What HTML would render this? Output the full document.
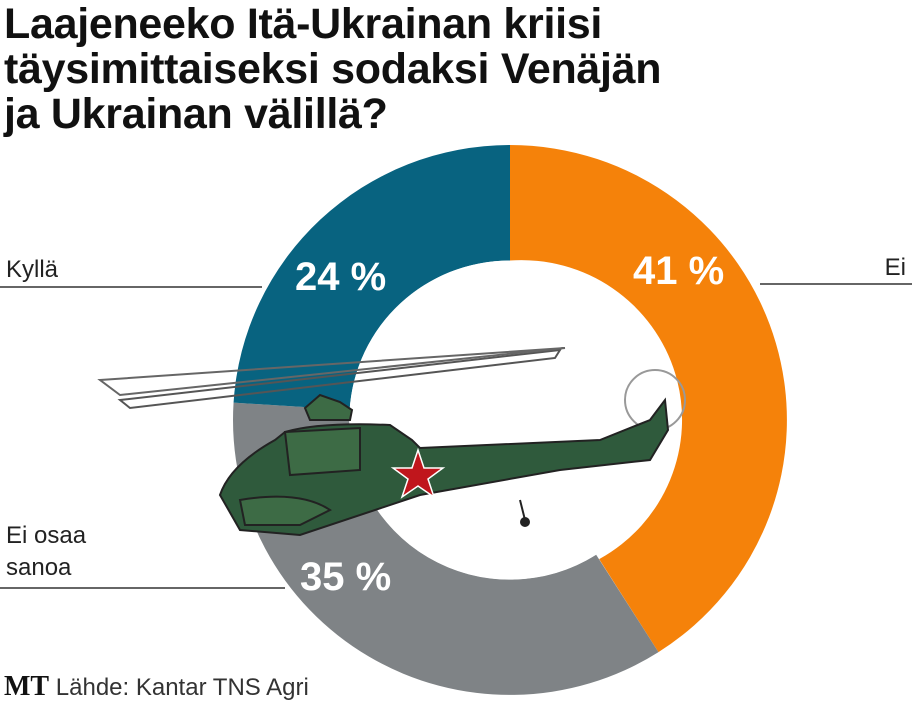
<!DOCTYPE html>
<html><head><meta charset="utf-8"><style>
body{margin:0;width:912px;height:702px;background:#fff;overflow:hidden;position:relative;font-family:"Liberation Sans",sans-serif}
.t{position:absolute;left:4px;top:2px;font-weight:bold;font-size:43px;line-height:45px;color:#111;letter-spacing:-0.3px}
.l{position:absolute;font-size:24px;color:#222}
</style></head><body>
<svg width="912" height="702" style="position:absolute;left:0;top:0">
<g transform="translate(510,420) scale(277,275)">
<path d="M0,-1 A1,1 0 0 1 0.536,0.844 L0.322,0.506 A0.58,0.58 0 0 0 0,-0.58Z" fill="#f5820a" transform="scale(1)"/>
<path d="M0.536,0.844 A1,1 0 0 1 -0.998,-0.063 L-0.579,-0.037 A0.58,0.58 0 0 0 0.311,0.49Z" fill="#7f8386"/>
<path d="M-0.998,-0.063 A1,1 0 0 1 0,-1 L0,-0.58 A0.58,0.58 0 0 0 -0.579,-0.037Z" fill="#086380"/>
<circle r="0.58" fill="#fff"/>
</g>
<line x1="0" y1="287" x2="262" y2="287" stroke="#333" stroke-width="1.5"/>
<line x1="760" y1="284" x2="912" y2="284" stroke="#333" stroke-width="1.5"/>
<line x1="0" y1="588" x2="285" y2="588" stroke="#333" stroke-width="1.5"/>
<g font-family="Liberation Sans" font-weight="bold" font-size="40" fill="#fff">
<text x="295" y="290">24 %</text><text x="633" y="284">41 %</text><text x="300" y="590">35 %</text></g>
<!-- helicopter -->
<g stroke="#222" stroke-width="2">
<path d="M120,400 L560,350 L555,358 L130,408Z" fill="none" stroke="#555"/>
<path d="M100,380 L565,348 L120,395Z" fill="none" stroke="#666"/>
<circle cx="655" cy="400" r="30" fill="none" stroke="#999"/>
<path d="M305,408 L320,395 L340,402 L352,410 L350,420 L310,420Z" fill="#3d6b45"/>
<path d="M220,495 Q230,465 275,440 L285,432 Q320,422 390,425 L412,440 L420,448 L600,440 L650,420 L665,400 L668,430 L650,460 L560,470 L420,495 L300,535 L240,530Z" fill="#2f5a3c"/>
<path d="M285,432 L360,428 L360,470 L290,475Z" fill="#3d6b45"/>
<path d="M240,500 Q300,490 330,510 L300,525 L245,525Z" fill="#3d6b45"/>
<line x1="520" y1="500" x2="525" y2="520"/><circle cx="525" cy="522" r="4" fill="#222"/>
</g>
<polygon points="418,450 424,468 443,468 428,479 434,497 418,486 402,497 408,479 393,468 412,468" fill="#c0161c" stroke="#fff" stroke-width="1.5"/>
</svg>
<div class="t">Laajeneeko Itä-Ukrainan kriisi<br>täysimittaiseksi sodaksi Venäjän<br>ja Ukrainan välillä?</div>
<div class="l" style="left:6px;top:256px">Kyllä</div>
<div class="l" style="right:6px;top:254px">Ei</div>
<div class="l" style="left:6px;top:520px;line-height:32px">Ei osaa<br>sanoa</div>
<div class="l" style="left:4px;top:671px"><b style="font-family:'Liberation Serif',serif;font-size:28px;color:#111">MT</b> <span style="color:#333">Lähde: Kantar TNS Agri</span></div>
</body></html>
